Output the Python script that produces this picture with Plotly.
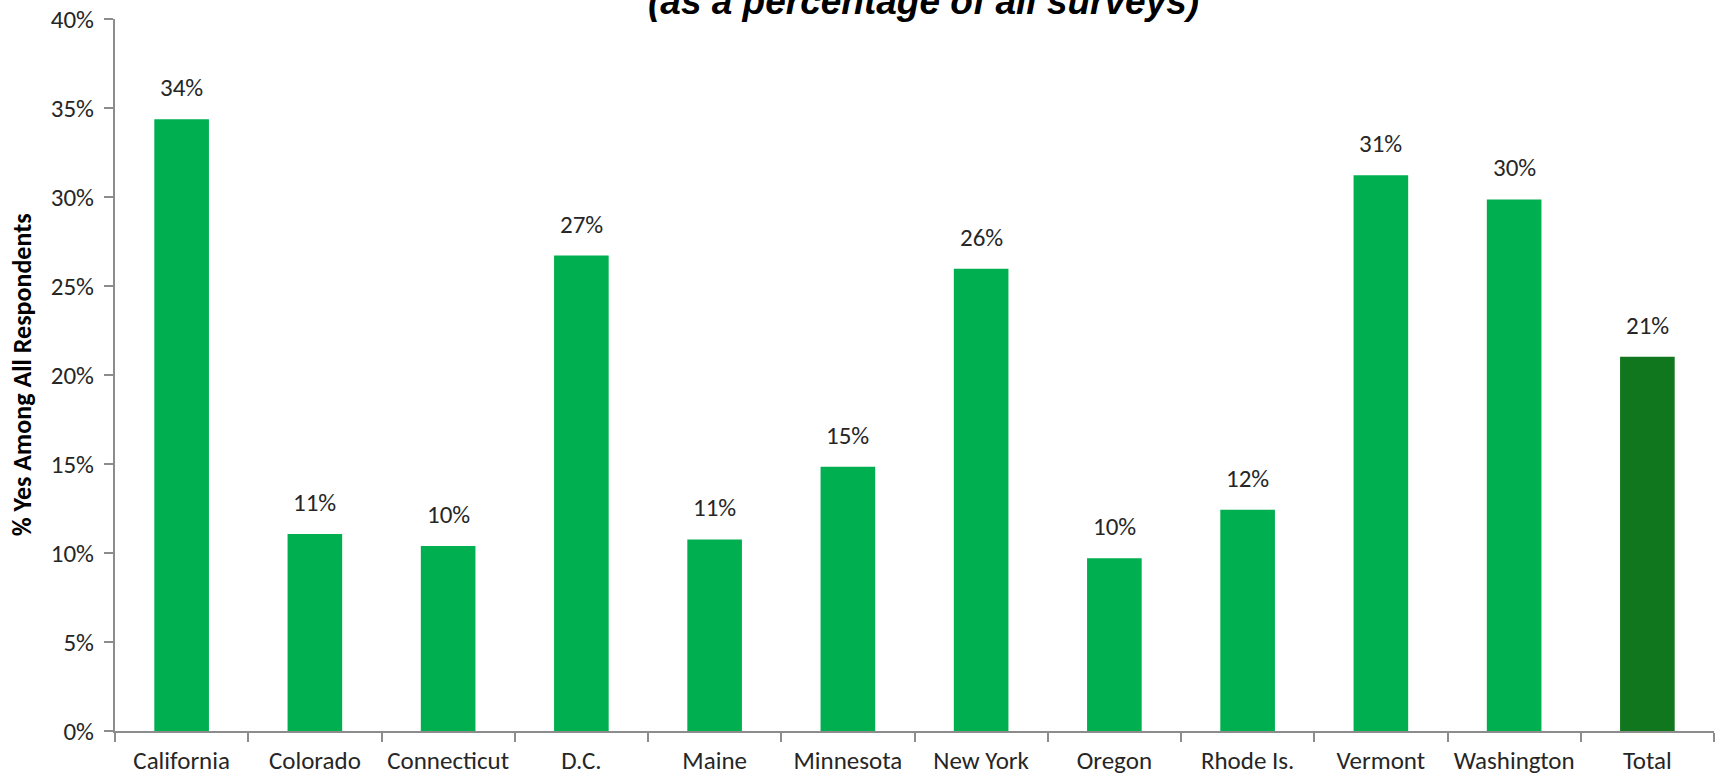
import plotly.graph_objects as go

categories = ["California", "Colorado", "Connecticut", "D.C.", "Maine", "Minnesota",
              "New York", "Oregon", "Rhode Is.", "Vermont", "Washington", "Total"]
values = [0.3437, 0.1107, 0.1039, 0.2671, 0.1076, 0.1484,
          0.2597, 0.0971, 0.1243, 0.3122, 0.2986, 0.2102]
bar_colors = ["#00B050"] * 11 + ["#10771E"]

title_text = "<i>(as a percentage of all surveys)</i>"
y_title = "% Yes Among All Respondents"
y_ticks = [0, 0.05, 0.10, 0.15, 0.20, 0.25, 0.30, 0.35, 0.40]
y_ticktext = ["0%", "5%", "10%", "15%", "20%", "25%", "30%", "35%", "40%"]

FONT = "Carlito, Lato, 'Liberation Sans', sans-serif"
TXT = "#262626"
AX = "#8C8C8C"

fig = go.Figure(go.Bar(
    x=categories,
    y=values,
    marker=dict(color=bar_colors, line=dict(width=0)),
    hoverinfo="x+y",
))

# value labels above bars
for c, v in zip(categories, values):
    fig.add_annotation(
        x=c, y=v, xref="x", yref="y",
        text=f"{v:.0%}", showarrow=False,
        yanchor="bottom", yshift=14,
        font=dict(family=FONT, size=25, color=TXT),
    )

# y-axis title as rotated annotation
fig.add_annotation(
    x=-0.058, y=0.5, xref="paper", yref="paper",
    text="<b>" + y_title + "</b>", showarrow=False,
    textangle=-90, xanchor="center", yanchor="middle",
    font=dict(family=FONT, size=26, color="black"),
)

# partially visible title at top
fig.add_annotation(
    x=0.5055, y=1.0, xref="paper", yref="paper",
    text="<b>" + title_text + "</b>", showarrow=False,
    xanchor="center", yanchor="bottom", yshift=-5,
    font=dict(family="'Liberation Sans', Arial, sans-serif", size=37, color="black"),
)

fig.update_layout(
    width=1723, height=779,
    paper_bgcolor="white", plot_bgcolor="white",
    margin=dict(l=115, r=9, t=19, b=48),
    bargap=0.59,
    showlegend=False,
)

fig.update_xaxes(
    type="category",
    showline=True, linecolor=AX, linewidth=2,
    ticks="outside", tickson="boundaries", ticklen=9, tickcolor=AX, tickwidth=2,
    tickfont=dict(family=FONT, size=25, color=TXT),
    ticklabelstandoff=6,
    showgrid=False, automargin=False,
)
fig.update_yaxes(
    range=[0, 0.40],
    tickvals=y_ticks, ticktext=y_ticktext,
    showline=True, linecolor=AX, linewidth=2,
    ticks="outside", ticklen=9, tickcolor=AX, tickwidth=2,
    tickfont=dict(family=FONT, size=25, color=TXT),
    ticklabelstandoff=5,
    showgrid=False, zeroline=False, automargin=False,
)

fig.write_html(
    "out.html",
    config={"displayModeBar": False},
    post_script="document.body.style.margin='0';document.body.style.overflow='hidden';",
)
